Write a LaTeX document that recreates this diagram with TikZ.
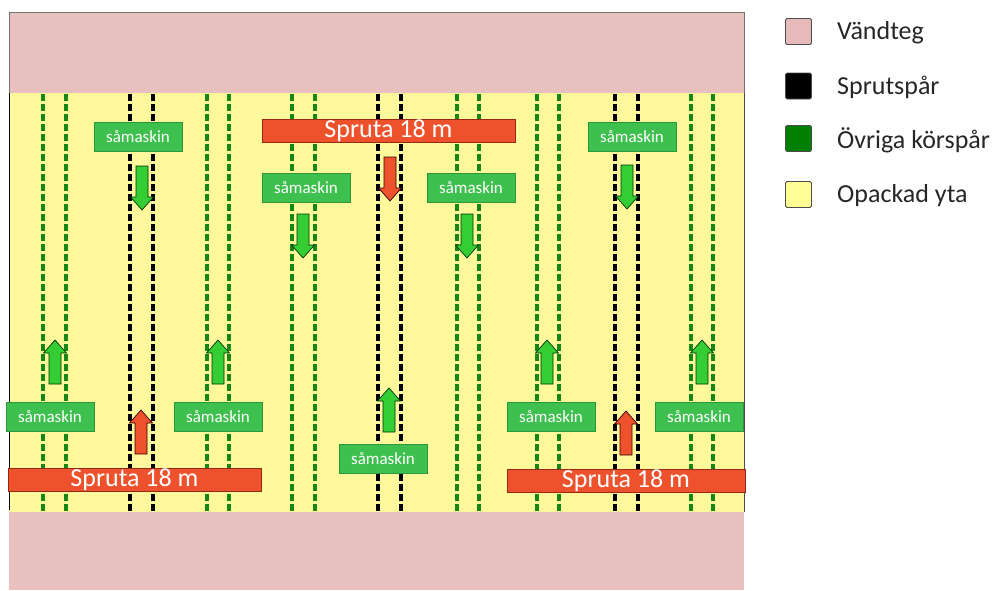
\documentclass[tikz,border=0pt]{standalone}
\usepackage{fontspec}
\setmainfont{Carlito}
\usetikzlibrary{positioning}

\definecolor{vand}{RGB}{232,192,192}
\definecolor{opack}{RGB}{255,249,155}
\definecolor{trackgreen}{RGB}{22,135,22}
\definecolor{boxgreen}{RGB}{62,192,78}
\definecolor{boxedge}{RGB}{44,150,60}
\definecolor{arrowgreen}{RGB}{52,205,52}
\definecolor{sprutared}{RGB}{238,82,44}
\definecolor{sprutaedge}{RGB}{150,40,20}
\definecolor{legpink}{RGB}{230,186,186}
\definecolor{leggreen}{RGB}{0,128,0}
\definecolor{legyellow}{RGB}{255,255,150}

\tikzset{
  greentrack/.style={draw=trackgreen, line width=3.2pt, dash pattern=on 6.5pt off 3.5pt},
  blacktrack/.style={draw=black, line width=3.2pt, dash pattern=on 6.5pt off 3.5pt},
  seeder/.style={rectangle, fill=boxgreen, draw=boxedge, line width=0.6pt,
    minimum width=88pt, minimum height=29pt, inner sep=0pt, text=white,
    font=\fontsize{17}{19}\selectfont},
  sprayer/.style={rectangle, fill=sprutared, draw=sprutaedge, line width=0.6pt,
    minimum height=23pt, inner sep=0pt, text=white,
    font=\fontsize{26}{28}\selectfont},
  swatch/.style={rectangle, rounded corners=1.5pt, draw=black!70, line width=0.8pt,
    minimum width=26pt, minimum height=26pt, inner sep=0pt},
  legtext/.style={anchor=west, inner sep=0pt, text=black!85, font=\fontsize{26}{28}\selectfont},
  blockarrow/.pic={
    \draw[line width=0.7pt, pic actions]
      (-6,0) -- (-6,-31) -- (-11.5,-31) -- (0,-44) -- (11.5,-31) -- (6,-31) -- (6,0) -- cycle;
  },
  greenarrow/.style={fill=arrowgreen, draw=black!80!green},
  redarrow/.style={fill=sprutared, draw=black!80!red},
}

\begin{document}
\begin{tikzpicture}[x=1pt, y=-1pt]
  \useasboundingbox (0,0) rectangle (993,590);

  % headlands and the unpacked field surface
  \fill[vand] (9,12) rectangle (744,93);
  \fill[opack] (9,93) rectangle (744,512);
  \fill[vand] (9,512) rectangle (744,590);
  \draw[black!55, line width=0.8pt] (9,93) -- (9,12) -- (744,12) -- (744,93);
  \draw[black, line width=0.9pt] (9,93) -- (9,510);
  \draw[black!70, line width=0.9pt] (744,93) -- (744,512);

  % wheel tracks
  \foreach \x in {43,66,207,229,292,315,457,479,537,559,691,713}
    \draw[greentrack] (\x,94) -- (\x,511);
  \foreach \x in {130,153,378,401,615,638}
    \draw[blacktrack] (\x,94) -- (\x,511);

  % sprayers
  \node[sprayer, minimum width=253pt] (spT) at (388.5,130.5) {Spruta 18 m};
  \node[sprayer, minimum width=253pt] (spL) at (134.5,479.5) {Spruta 18 m};
  \node[sprayer, minimum width=238pt] (spR) at (626,480.5) {Spruta 18 m};

  % seed drills
  \node[seeder] (s1) at (138,137) {såmaskin};
  \node[seeder] (s2) at (306,188) {såmaskin};
  \node[seeder] (s3) at (471,188) {såmaskin};
  \node[seeder] (s4) at (632,137) {såmaskin};
  \node[seeder] (s5) at (50,417) {såmaskin};
  \node[seeder] (s6) at (218,417) {såmaskin};
  \node[seeder] (s7) at (383,459) {såmaskin};
  \node[seeder] (s8) at (551,417) {såmaskin};
  \node[seeder] (s9) at (699,417) {såmaskin};

  % driving directions: downward
  \pic[greenarrow, rotate=180] at (142,166) {blockarrow};
  \pic[greenarrow, rotate=180] at (303,214) {blockarrow};
  \pic[greenarrow, rotate=180] at (467,214) {blockarrow};
  \pic[greenarrow, rotate=180] at (627,165) {blockarrow};
  \pic[redarrow, rotate=180] at (390,157) {blockarrow};
  % driving directions: upward
  \pic[greenarrow] at (55,384) {blockarrow};
  \pic[greenarrow] at (218,384) {blockarrow};
  \pic[greenarrow] at (389,432) {blockarrow};
  \pic[greenarrow] at (547,384) {blockarrow};
  \pic[greenarrow] at (702,384) {blockarrow};
  \pic[redarrow] at (141,454) {blockarrow};
  \pic[redarrow] at (626,455) {blockarrow};

  % legend
  \node[swatch, fill=legpink] (l1) at (798.5,31.5) {};
  \node[swatch, fill=black] (l2) at (798.5,86) {};
  \node[swatch, fill=leggreen] (l3) at (798.5,138.5) {};
  \node[swatch, fill=legyellow] (l4) at (798.5,194.5) {};
  \node[legtext] (t1) at (837,33) {Vändteg};
  \node[legtext] (t2) at (837,87.5) {Sprutspår};
  \node[legtext] (t3) at (837,140) {Övriga körspår};
  \node[legtext] (t4) at (837,196) {Opackad yta};
\end{tikzpicture}
\end{document}
